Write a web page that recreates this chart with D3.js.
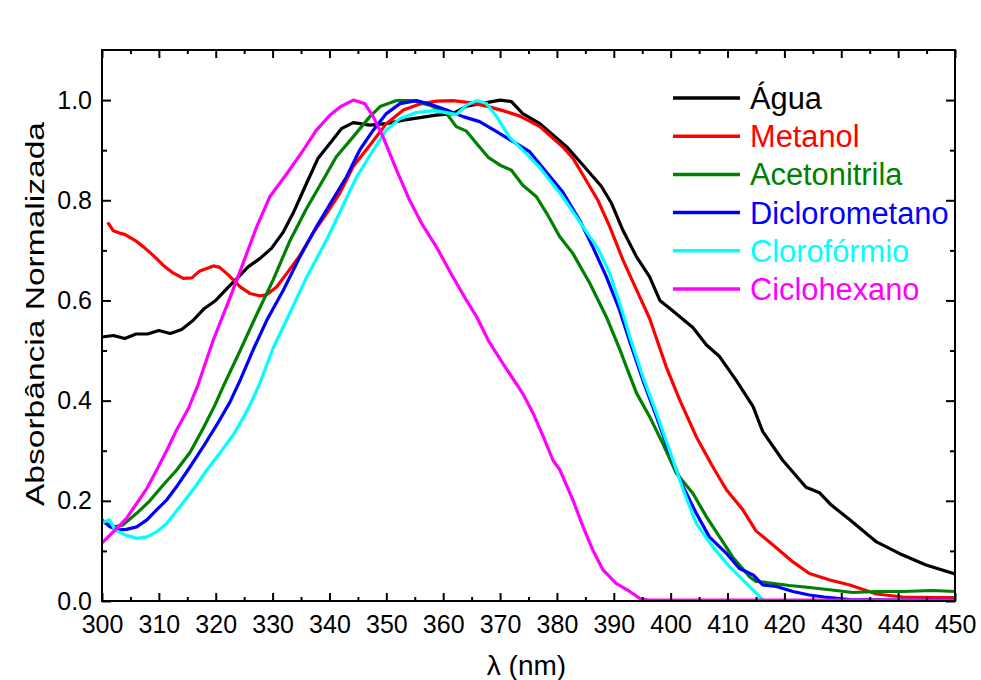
<!DOCTYPE html>
<html>
<head>
<meta charset="utf-8">
<script src="https://cdn.jsdelivr.net/npm/d3@7"></script>
<style>
  html, body { margin: 0; padding: 0; background: #fff; }
  svg { display: block; font-family: "Liberation Sans", Arial, sans-serif; }
</style>
</head>
<body>
<svg id="chart" width="981" height="680"></svg>
<script>
// ---------------- DATA ----------------
const seriesNames = ["Água", "Metanol", "Acetonitrila", "Diclorometano", "Clorofórmio", "Ciclohexano"];
const seriesColors = ["#000000", "#ff0000", "#008000", "#0000ff", "#00ffff", "#ff00ff"];

const xTickValues = [300, 310, 320, 330, 340, 350, 360, 370, 380, 390, 400, 410, 420, 430, 440, 450];
const yTickValues = [0.0, 0.2, 0.4, 0.6, 0.8, 1.0];

const agua = [[300,0.527],[302,0.530],[304,0.524],[306,0.533],[308,0.533],[310,0.540],[312,0.534],[314,0.542],[316,0.560],[318,0.584],[320,0.600],[322,0.624],[324,0.647],[325.7,0.667],[327.8,0.684],[329.8,0.704],[331.9,0.737],[333.6,0.774],[335.7,0.827],[338,0.884],[340.1,0.914],[342.1,0.943],[344.2,0.955],[347.1,0.950],[350,0.953],[353,0.960],[355.9,0.965],[358.8,0.970],[361.7,0.973],[364.1,0.988],[367.6,0.995],[370,1.0],[372,0.997],[374,0.973],[377,0.953],[381.7,0.907],[384.6,0.870],[387.8,0.828],[389.6,0.794],[391.6,0.740],[394,0.687],[396.3,0.647],[398.1,0.600],[400.4,0.579],[403.9,0.546],[406.3,0.511],[408.6,0.488],[411.5,0.441],[414.5,0.388],[416.2,0.338],[419.7,0.281],[423.8,0.227],[426.2,0.216],[428.2,0.192],[431.5,0.162],[436.2,0.118],[440.2,0.095],[444.9,0.072],[450,0.054]];

const metanol = [[301,0.756],[302,0.739],[303.2,0.734],[304,0.732],[305.8,0.720],[307.3,0.707],[309,0.690],[310.8,0.670],[312.5,0.655],[314.3,0.644],[315.8,0.645],[317.2,0.659],[319.6,0.669],[320.7,0.666],[322.2,0.651],[324.3,0.627],[326,0.614],[327.8,0.609],[328.9,0.611],[330.7,0.627],[332.5,0.654],[334.8,0.690],[337.1,0.734],[339.5,0.774],[341.8,0.814],[344.2,0.868],[347.1,0.910],[350,0.953],[353,0.980],[355.9,0.992],[358.8,0.998],[361.7,0.999],[364.7,0.995],[367.6,0.988],[370.5,0.979],[373.5,0.968],[377,0.947],[381,0.907],[382.8,0.884],[384.6,0.850],[387.2,0.800],[389.3,0.747],[391.6,0.681],[394,0.621],[396.3,0.564],[399.2,0.468],[401.6,0.401],[404.5,0.328],[407.4,0.268],[409.8,0.222],[412.7,0.182],[415,0.140],[418,0.112],[421.5,0.078],[424.4,0.055],[428,0.042],[431.5,0.032],[436.2,0.014],[440.8,0.008],[446.1,0.007],[450,0.007]];

const acetonitrila = [[300,0.158],[302.3,0.148],[303.7,0.152],[306.1,0.175],[308.4,0.200],[310.8,0.232],[313.1,0.261],[315.5,0.297],[317.8,0.345],[319.9,0.392],[321.3,0.428],[324.3,0.500],[327.2,0.572],[330.1,0.641],[333,0.718],[336,0.784],[339,0.843],[341.2,0.887],[344.2,0.927],[347.1,0.967],[348.9,0.987],[351.8,0.999],[354.7,0.999],[357.6,0.990],[360.6,0.973],[362.3,0.947],[364.1,0.938],[365.9,0.913],[368,0.885],[370,0.870],[372,0.860],[374,0.830],[376.4,0.807],[378.2,0.774],[380.5,0.727],[382.8,0.694],[385.8,0.634],[388.7,0.567],[391,0.504],[392.2,0.468],[394,0.415],[396.3,0.368],[398.6,0.315],[401,0.255],[403.9,0.215],[406.3,0.168],[408.6,0.128],[410.9,0.088],[413.9,0.048],[415,0.039],[416.8,0.037],[420.9,0.031],[424.4,0.027],[429.1,0.021],[432,0.017],[436.2,0.019],[440.8,0.019],[446.1,0.021],[450,0.019]];

const diclorometano = [[300,0.162],[301.4,0.148],[302.9,0.142],[304.3,0.143],[306.1,0.148],[307.9,0.162],[309.6,0.182],[311.4,0.202],[313.1,0.228],[315.5,0.268],[317.8,0.308],[320.2,0.352],[322.5,0.397],[324.3,0.441],[326.6,0.502],[329,0.561],[331.9,0.621],[334.8,0.687],[337.7,0.747],[340.6,0.802],[343,0.847],[345.3,0.900],[347.7,0.940],[350,0.973],[352.4,0.993],[355.3,0.999],[357.6,0.992],[360.6,0.980],[363.5,0.967],[366.4,0.957],[369.4,0.937],[372.3,0.917],[375.2,0.897],[377,0.872],[381,0.817],[384,0.760],[386.3,0.707],[388.7,0.647],[391,0.581],[392.8,0.518],[395.1,0.441],[397.5,0.368],[399.8,0.295],[402.2,0.228],[404.5,0.175],[406.8,0.128],[409.8,0.095],[412.1,0.065],[414.5,0.052],[416.2,0.032],[418.6,0.029],[421.5,0.019],[424.4,0.012],[427,0.008],[431.5,0.003],[440,0.002],[450,0.002]];

const cloroformio = [[300,0.156],[301.3,0.162],[302.3,0.142],[304,0.132],[306.1,0.125],[307.9,0.128],[309.6,0.138],[311.4,0.155],[313.7,0.188],[316,0.222],[318.4,0.261],[320.7,0.295],[323.1,0.332],[324.8,0.365],[326.3,0.398],[327.8,0.436],[330.1,0.505],[333,0.574],[336,0.647],[339.5,0.721],[342.4,0.790],[344.8,0.847],[347.7,0.900],[350,0.940],[352.4,0.963],[355.3,0.975],[358.2,0.979],[360.6,0.975],[362.3,0.971],[364.1,0.990],[365.9,0.999],[367.6,0.993],[369.4,0.967],[371.7,0.925],[374,0.900],[377,0.865],[381,0.807],[384.6,0.747],[387.2,0.704],[389.3,0.654],[391.6,0.574],[392.8,0.528],[395.1,0.448],[397.5,0.375],[399.8,0.301],[402.2,0.222],[404.5,0.155],[407.4,0.108],[410.4,0.068],[413.3,0.035],[415.6,0.009],[416.5,0.0]];

const ciclohexano = [[300,0.116],[302.6,0.145],[304.3,0.165],[306.1,0.195],[307.9,0.225],[309.6,0.261],[311.4,0.301],[313.1,0.341],[315.3,0.387],[316.9,0.432],[319.6,0.522],[322.5,0.605],[324.8,0.674],[327.2,0.747],[329.5,0.807],[332.5,0.853],[335.4,0.900],[337.7,0.940],[340.1,0.970],[342.1,0.988],[344.2,1.0],[346.2,0.993],[347.7,0.967],[349.4,0.927],[351.8,0.860],[354.1,0.800],[356.2,0.754],[358.8,0.707],[361.7,0.647],[364.1,0.600],[365.9,0.567],[367.9,0.521],[370.5,0.474],[374,0.414],[375.8,0.375],[377.6,0.328],[379.3,0.281],[380.5,0.262],[382.8,0.202],[384.6,0.148],[386.3,0.102],[388.1,0.062],[390.4,0.035],[392.8,0.019],[394.6,0.005],[396,0.002],[450,0.002]];

const seriesData = [agua, metanol, acetonitrila, diclorometano, cloroformio, ciclohexano];

// ---------------- LAYOUT ----------------
const svg = d3.select("#chart");
const W = 981, H = 680;
const margin = {left: 102, right: 26, top: 50, bottom: 79};
const iw = W - margin.left - margin.right;
const ih = H - margin.top - margin.bottom;

const x = d3.scaleLinear().domain([300, 450]).range([margin.left, margin.left + iw]);
const y = d3.scaleLinear().domain([0, 1.1]).range([margin.top + ih, margin.top]);

const xMinor = d3.range(305, 450, 10);
const yMinor = [0.1, 0.3, 0.5, 0.7, 0.9];

svg.append("defs").append("clipPath").attr("id", "clip")
  .append("rect").attr("x", margin.left).attr("y", margin.top).attr("width", iw).attr("height", ih);

// lines
const line = d3.line().x(d => x(d[0])).y(d => y(d[1]));
const gLines = svg.append("g").attr("clip-path", "url(#clip)");
seriesData.forEach((s, i) => {
  gLines.append("path").datum(s)
    .attr("d", line)
    .attr("fill", "none")
    .attr("stroke", seriesColors[i])
    .attr("stroke-width", 3.2)
    .attr("stroke-linejoin", "round");
});

// axes
function styleAxis(g) {
  g.select(".domain").remove();
  g.selectAll(".tick line").attr("stroke", "#000").attr("stroke-width", 2);
  g.selectAll("text").attr("fill", "#000").attr("font-size", 25).attr("font-family", "'Liberation Sans', Arial, sans-serif");
}

const fmt = d3.format(".1f");
svg.append("g").attr("transform", `translate(0,${y(0)})`)
  .call(d3.axisBottom(x).tickValues(xTickValues).tickSize(-8).tickPadding(14).tickFormat(d3.format("d")))
  .call(styleAxis);
svg.append("g").attr("transform", `translate(0,${y(0)})`)
  .call(d3.axisBottom(x).tickValues(xMinor).tickSize(-4).tickFormat(""))
  .call(styleAxis);
svg.append("g").attr("transform", `translate(0,${margin.top})`)
  .call(d3.axisTop(x).tickValues(xTickValues).tickSize(-8).tickFormat(""))
  .call(styleAxis);
svg.append("g").attr("transform", `translate(0,${margin.top})`)
  .call(d3.axisTop(x).tickValues(xMinor).tickSize(-4).tickFormat(""))
  .call(styleAxis);

svg.append("g").attr("transform", `translate(${x(300)},0)`)
  .call(d3.axisLeft(y).tickValues(yTickValues).tickSize(-9).tickPadding(10).tickFormat(fmt))
  .call(styleAxis);
svg.append("g").attr("transform", `translate(${x(300)},0)`)
  .call(d3.axisLeft(y).tickValues(yMinor).tickSize(-5).tickFormat(""))
  .call(styleAxis);
svg.append("g").attr("transform", `translate(${x(450)},0)`)
  .call(d3.axisRight(y).tickValues(yTickValues).tickSize(-9).tickFormat(""))
  .call(styleAxis);
svg.append("g").attr("transform", `translate(${x(450)},0)`)
  .call(d3.axisRight(y).tickValues(yMinor).tickSize(-5).tickFormat(""))
  .call(styleAxis);

// frame
svg.append("rect")
  .attr("x", margin.left).attr("y", margin.top)
  .attr("width", iw).attr("height", ih)
  .attr("fill", "none").attr("stroke", "#000").attr("stroke-width", 2);

// axis titles
svg.append("text")
  .attr("x", (x(300) + x(450)) / 2 - 2).attr("y", 675)
  .attr("text-anchor", "middle").attr("font-size", 28).attr("fill", "#000")
  .text("λ (nm)");

svg.append("text")
  .attr("transform", `translate(44,314) rotate(-90)`)
  .attr("text-anchor", "middle").attr("font-size", 26).attr("fill", "#000")
  .attr("textLength", 384).attr("lengthAdjust", "spacingAndGlyphs")
  .text("Absorbância Normalizada");

// legend
const legY0 = 98, legStep = 38.2;
const leg = svg.append("g");
seriesNames.forEach((name, i) => {
  const ly = legY0 + i * legStep;
  leg.append("line")
    .attr("x1", 673).attr("x2", 740).attr("y1", ly).attr("y2", ly)
    .attr("stroke", seriesColors[i]).attr("stroke-width", 3.5);
  leg.append("text")
    .attr("x", 750).attr("y", ly + 11)
    .attr("font-size", 30.8).attr("fill", seriesColors[i])
    .text(name);
});
</script>
</body>
</html>
